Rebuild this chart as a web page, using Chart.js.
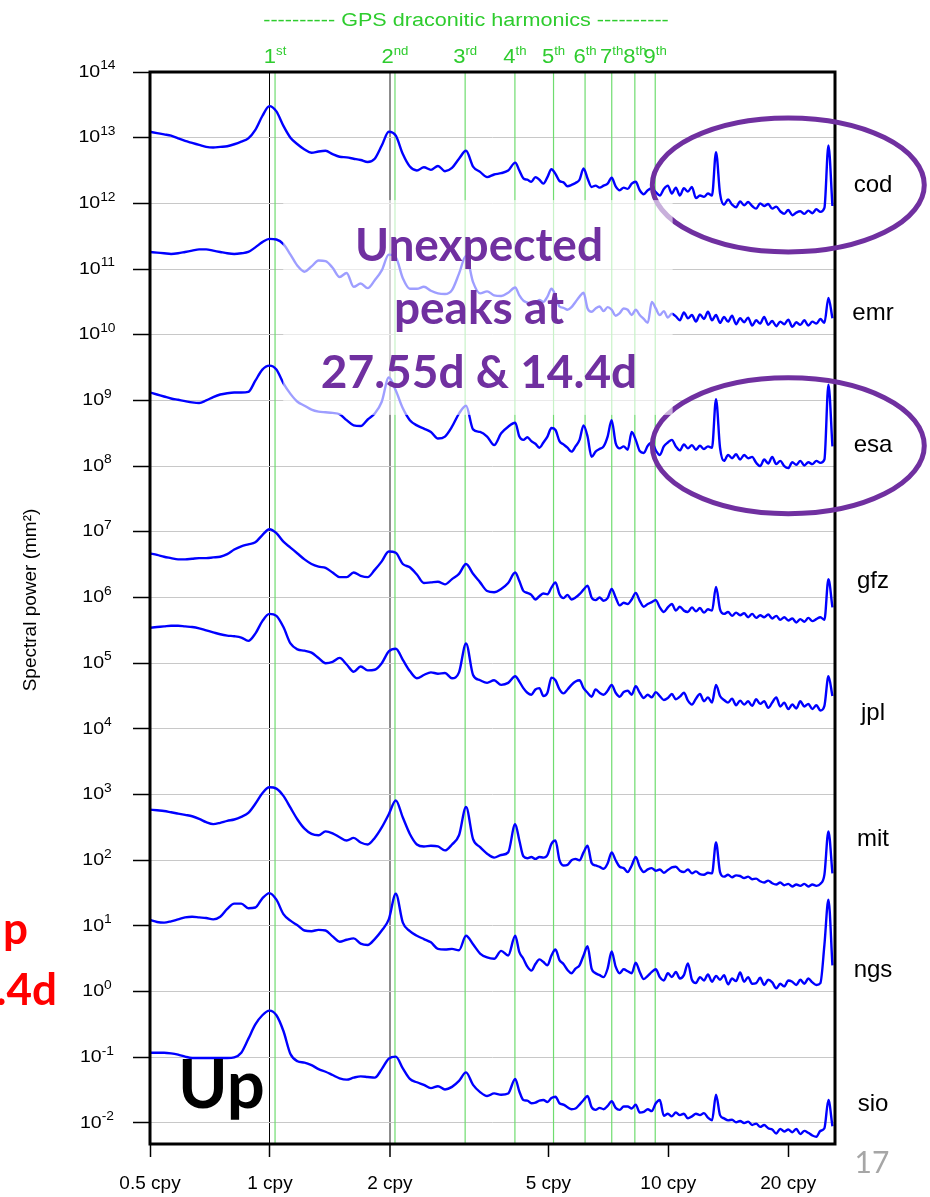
<!DOCTYPE html>
<html>
<head>
<meta charset="utf-8">
<script src="https://cdn.jsdelivr.net/npm/chart.js@4.4.1/dist/chart.umd.min.js"></script>
<style>
  html, body { margin: 0; padding: 0; background: #fff; }
  #wrap { width: 930px; height: 1197px; position: relative; }
</style>
</head>
<body>
<div id="wrap"><canvas id="spectra" width="930" height="1197"></canvas></div>
<script>
// --- data ---
// frequency samples (cycles per year)
const freqCpy = [
  0.5, 0.5207, 0.5423, 0.5647, 0.5881, 0.6125, 0.6378, 0.6643, 0.6918, 0.7204,
  0.7503, 0.7813, 0.8137, 0.8474, 0.8825, 0.9191, 0.9571, 0.9968, 1.0381, 1.0811,
  1.1259, 1.1725, 1.2211, 1.2717, 1.3244, 1.3792, 1.4364, 1.4959, 1.5579, 1.6224,
  1.6896, 1.7596, 1.8325, 1.9084, 1.9875, 2.0698, 2.1556, 2.2449, 2.3379, 2.4347,
  2.5356, 2.6406, 2.75, 2.8639, 2.9826, 3.1061, 3.2348, 3.3688, 3.5084, 3.6537, 3.8051, 3.9627, 4.1269,
  4.227, 4.326, 4.427, 4.531, 4.638, 4.746, 4.858, 4.972, 5.088, 5.208,
  5.33, 5.455, 5.583, 5.714, 5.848, 5.985, 6.126, 6.269, 6.417, 6.567,
  6.721, 6.879, 7.04, 7.206, 7.375, 7.548, 7.725, 7.906, 8.092, 8.282,
  8.476, 8.675, 8.879, 9.087, 9.3, 9.519, 9.742, 9.971, 10.205, 10.444,
  10.689, 10.94, 11.197, 11.46, 11.729, 12.004, 12.286, 12.574, 12.87, 13.172,
  13.481, 13.797, 14.121, 14.453, 14.792, 15.139, 15.495, 15.858, 16.231, 16.612,
  17.001, 17.4, 17.809, 18.227, 18.655, 19.093, 19.541, 20.0, 20.469, 20.95,
  21.442, 21.945, 22.46, 22.987, 23.527, 24.079, 24.645, 25.223, 25.815
];

// log10 of spectral power (mm^2) for each analysis centre, same samples as freqCpy
const codExp = [
  13.09, 13.07, 13.05, 13.03, 12.99, 12.95, 12.92, 12.89, 12.86, 12.85,
  12.86, 12.87, 12.90, 12.94, 12.99, 13.12, 13.33, 13.48, 13.40, 13.18,
  13.00, 12.90, 12.82, 12.77, 12.79, 12.80, 12.75, 12.71, 12.70, 12.68,
  12.66, 12.63, 12.68, 12.88, 13.09, 13.03, 12.75, 12.56, 12.50, 12.55,
  12.51, 12.57, 12.49, 12.54, 12.68, 12.80, 12.56, 12.48, 12.40, 12.44, 12.46, 12.50, 12.62,
  12.50, 12.38, 12.36, 12.33, 12.40, 12.36, 12.30, 12.40, 12.52, 12.45,
  12.34, 12.32, 12.26, 12.28, 12.31, 12.36, 12.53, 12.38, 12.25, 12.27,
  12.24, 12.27, 12.30, 12.39, 12.26, 12.20, 12.24, 12.22, 12.30, 12.33,
  12.20, 12.14, 12.20, 12.23, 12.17, 12.12, 12.22, 12.27, 12.15, 12.24,
  12.12, 12.23, 12.18, 12.25, 12.08, 12.12, 12.10, 12.15, 12.12, 12.78,
  12.15, 11.98, 12.06, 11.98, 11.94, 12.03, 11.97, 12.02, 11.96, 11.92,
  12.00, 11.96, 11.99, 11.92, 11.95, 11.88, 11.84, 11.90, 11.82, 11.86,
  11.88, 11.84, 11.89, 11.85, 11.91, 11.87, 11.93, 12.88, 11.96
];
const emrExp = [
  11.26, 11.25, 11.24, 11.23, 11.24, 11.26, 11.28, 11.30, 11.30, 11.28,
  11.26, 11.24, 11.23, 11.24, 11.26, 11.33, 11.41, 11.46, 11.45, 11.38,
  11.22, 11.05, 10.96, 11.04, 11.13, 11.12, 11.02, 10.88, 10.94, 10.73,
  10.78, 10.71, 10.83, 10.98, 11.22, 11.18, 10.86, 10.70, 10.70, 10.73,
  10.67, 10.63, 10.62, 10.68, 10.93, 11.20, 10.80, 10.63, 10.66, 10.60, 10.59, 10.64, 10.72,
  10.60, 10.52, 10.49, 10.46, 10.48, 10.53, 10.50, 10.58, 10.70, 10.60,
  10.43, 10.41, 10.38, 10.42, 10.50, 10.58, 10.64, 10.40, 10.35, 10.40,
  10.43, 10.36, 10.42, 10.38, 10.29, 10.33, 10.40, 10.38, 10.30, 10.38,
  10.30, 10.24, 10.18, 10.50, 10.40, 10.30, 10.36, 10.26, 10.32, 10.28,
  10.22, 10.34, 10.25, 10.30, 10.20, 10.31, 10.24, 10.35, 10.22, 10.30,
  10.18, 10.27, 10.20, 10.29, 10.16, 10.25, 10.19, 10.26, 10.14, 10.22,
  10.17, 10.27, 10.15, 10.21, 10.13, 10.20, 10.16, 10.23, 10.12, 10.19,
  10.15, 10.22, 10.14, 10.20, 10.17, 10.24, 10.18, 10.56, 10.25
];
const esaExp = [
  9.12, 9.09, 9.06, 9.03, 9.01, 8.99, 8.97, 8.96, 9.00, 9.05,
  9.09, 9.11, 9.12, 9.12, 9.13, 9.30, 9.47, 9.53, 9.47, 9.26,
  9.10, 8.98, 8.92, 8.86, 8.83, 8.82, 8.81, 8.79, 8.70, 8.62,
  8.61, 8.71, 8.80, 8.98, 9.35, 9.15, 8.88, 8.70, 8.62, 8.57,
  8.52, 8.42, 8.45, 8.60, 8.80, 8.92, 8.56, 8.52, 8.45, 8.32, 8.50, 8.60, 8.66,
  8.45, 8.40, 8.44, 8.38, 8.34, 8.28, 8.36, 8.45, 8.58, 8.55,
  8.38, 8.33, 8.28, 8.22, 8.30, 8.40, 8.62, 8.45, 8.14, 8.22,
  8.26, 8.30, 8.45, 8.70, 8.35, 8.27, 8.30, 8.25, 8.52, 8.40,
  8.23, 8.20, 8.31, 8.36, 8.24, 8.17, 8.30, 8.36, 8.40, 8.30,
  8.24, 8.33, 8.27, 8.32, 8.25, 8.31, 8.26, 8.30, 8.28, 9.02,
  8.28, 8.08, 8.17, 8.12, 8.18, 8.10, 8.17, 8.12, 8.14, 8.05,
  8.00, 8.10, 8.04, 8.14, 8.03, 8.08, 8.00, 7.97, 8.06, 8.02,
  8.08, 8.01, 8.06, 8.03, 8.08, 8.05, 8.10, 9.24, 8.30
];
const gfzExp = [
  6.67, 6.65, 6.62, 6.60, 6.58, 6.58, 6.59, 6.60, 6.60, 6.61,
  6.62, 6.66, 6.73, 6.78, 6.81, 6.84, 6.95, 7.04, 6.98, 6.85,
  6.76, 6.67, 6.58, 6.51, 6.47, 6.45, 6.38, 6.31, 6.31, 6.38,
  6.33, 6.31, 6.42, 6.55, 6.70, 6.68, 6.51, 6.46, 6.35, 6.22,
  6.23, 6.24, 6.20, 6.28, 6.36, 6.51, 6.36, 6.23, 6.10, 6.08, 6.13, 6.22, 6.38,
  6.25, 6.10, 6.07, 6.04, 5.97, 6.02, 6.06, 6.05, 6.15, 6.23,
  6.05, 5.99, 6.04, 5.97, 6.00, 6.05, 6.12, 6.18, 6.00, 5.96,
  6.00, 5.95, 5.99, 6.13, 6.00, 5.88, 5.92, 5.90, 5.97, 6.07,
  5.95, 5.86, 5.90, 5.93, 5.96, 5.85, 5.78, 5.85, 5.90, 5.80,
  5.86, 5.80, 5.78, 5.85, 5.79, 5.84, 5.77, 5.82, 5.80, 6.16,
  5.82, 5.75, 5.78, 5.72, 5.77, 5.73, 5.76, 5.70, 5.75, 5.69,
  5.73, 5.70, 5.74, 5.68, 5.72, 5.66, 5.70, 5.65, 5.68, 5.62,
  5.67, 5.63, 5.69, 5.64, 5.67, 5.70, 5.66, 6.28, 5.85
];
const jplExp = [
  5.54, 5.55, 5.56, 5.57, 5.57, 5.56, 5.55, 5.53, 5.50, 5.47,
  5.44, 5.42, 5.41, 5.39, 5.34, 5.45, 5.64, 5.75, 5.72, 5.55,
  5.30, 5.21, 5.19, 5.16, 5.08, 5.00, 5.02, 5.08, 4.98, 4.87,
  4.95, 4.89, 4.90, 5.00, 5.18, 5.22, 5.05, 4.88, 4.77, 4.82,
  4.86, 4.84, 4.85, 4.77, 4.86, 5.30, 4.82, 4.74, 4.70, 4.74, 4.67, 4.70, 4.80,
  4.72, 4.62, 4.55, 4.52, 4.60, 4.62, 4.50, 4.55, 4.78, 4.74,
  4.60, 4.54, 4.60, 4.67, 4.72, 4.74, 4.62, 4.55, 4.49, 4.60,
  4.55, 4.52, 4.58, 4.67, 4.55, 4.49, 4.56, 4.58, 4.52, 4.65,
  4.55, 4.47, 4.52, 4.48, 4.56, 4.50, 4.44, 4.47, 4.53, 4.45,
  4.49, 4.55, 4.43, 4.37, 4.46, 4.53, 4.42, 4.48, 4.40, 4.67,
  4.50, 4.44, 4.40, 4.46, 4.36, 4.43, 4.37, 4.42, 4.35, 4.45,
  4.38, 4.42, 4.32, 4.40, 4.48, 4.34, 4.40, 4.30, 4.37, 4.31,
  4.42, 4.34, 4.38, 4.30, 4.36, 4.28, 4.35, 4.80, 4.50
];
const mitExp = [
  2.77, 2.76, 2.75, 2.73, 2.71, 2.69, 2.67, 2.63, 2.58, 2.55,
  2.57, 2.60, 2.62, 2.66, 2.72, 2.86, 3.02, 3.11, 3.09, 2.98,
  2.80, 2.62, 2.48, 2.40, 2.38, 2.44, 2.41, 2.35, 2.30, 2.34,
  2.27, 2.24, 2.34, 2.50, 2.70, 2.91, 2.65, 2.40, 2.24, 2.21,
  2.22, 2.21, 2.15, 2.24, 2.38, 2.81, 2.32, 2.20, 2.10, 2.04, 2.08, 2.12, 2.55,
  2.30, 2.06, 2.03, 2.05, 2.02, 2.05, 2.04, 2.08, 2.25, 2.30,
  2.00, 1.92, 1.93, 2.00, 2.02, 2.00, 2.12, 2.22, 1.96, 1.92,
  1.90, 1.87, 1.95, 2.12, 2.00, 1.90, 1.88, 1.82, 1.92, 2.05,
  1.90, 1.82, 1.86, 1.88, 1.84, 1.86, 1.81, 1.85, 1.89, 1.90,
  1.84, 1.82, 1.86, 1.80, 1.83, 1.79, 1.78, 1.81, 1.80, 2.27,
  1.82, 1.75, 1.78, 1.74, 1.77, 1.76, 1.73, 1.75, 1.71, 1.72,
  1.68, 1.66, 1.69, 1.65, 1.63, 1.66, 1.62, 1.64, 1.60, 1.63,
  1.61, 1.64, 1.60, 1.63, 1.61, 1.64, 1.78, 2.44, 1.80
];
const ngsExp = [
  1.09, 1.06, 1.05, 1.07, 1.10, 1.13, 1.14, 1.13, 1.12, 1.10,
  1.14, 1.26, 1.34, 1.34, 1.27, 1.28, 1.42, 1.50, 1.40, 1.18,
  1.08, 1.01, 0.93, 0.92, 0.94, 0.93, 0.84, 0.76, 0.79, 0.81,
  0.73, 0.71, 0.80, 0.93, 1.10, 1.49, 1.05, 0.92, 0.85, 0.80,
  0.75, 0.65, 0.64, 0.65, 0.63, 0.85, 0.72, 0.58, 0.52, 0.50, 0.62, 0.55, 0.85,
  0.60, 0.50, 0.38, 0.32, 0.42, 0.49, 0.45, 0.40, 0.55, 0.64,
  0.48, 0.42, 0.33, 0.28, 0.35, 0.40, 0.55, 0.69, 0.35, 0.28,
  0.25, 0.22, 0.35, 0.61, 0.38, 0.28, 0.34, 0.31, 0.28, 0.44,
  0.30, 0.19, 0.24, 0.30, 0.34, 0.22, 0.17, 0.28, 0.22, 0.30,
  0.20, 0.25, 0.43, 0.18, 0.13, 0.22, 0.17, 0.26, 0.15, 0.24,
  0.18, 0.25, 0.11, 0.20, 0.16, 0.29, 0.15, 0.22, 0.12, 0.13,
  0.21, 0.10, 0.18, 0.14, 0.05, 0.12, 0.08, 0.17, 0.15, 0.10,
  0.18, 0.12, 0.20, 0.14, 0.10, 0.13, 0.71, 1.40, 0.40
];
const sioExp = [
  -0.93, -0.93, -0.93, -0.94, -0.96, -0.99, -1.01, -1.01, -1.01, -1.01,
  -1.01, -1.01, -1.00, -0.93, -0.72, -0.50, -0.36, -0.29, -0.36, -0.60,
  -0.95, -1.06, -1.08, -1.12, -1.18, -1.22, -1.27, -1.32, -1.34, -1.31,
  -1.29, -1.30, -1.31, -1.18, -1.02, -0.99, -1.17, -1.33, -1.38, -1.42,
  -1.47, -1.44, -1.49, -1.45, -1.36, -1.23, -1.42, -1.53, -1.59, -1.55, -1.57, -1.55, -1.33,
  -1.52, -1.65, -1.66, -1.70, -1.69, -1.66, -1.65, -1.68, -1.62, -1.60,
  -1.70, -1.72, -1.76, -1.79, -1.78, -1.72, -1.65, -1.59, -1.76, -1.80,
  -1.77, -1.79, -1.74, -1.67, -1.77, -1.80, -1.75, -1.75, -1.78, -1.72,
  -1.84, -1.83, -1.79, -1.82, -1.70, -1.65, -1.89, -1.86, -1.90, -1.84,
  -1.88, -1.86, -1.93, -1.90, -1.86, -1.88, -1.85, -1.92, -1.96, -1.57,
  -1.88, -1.93, -1.96, -1.95, -1.99, -1.97, -2.00, -1.98, -2.03, -2.01,
  -2.06, -2.03, -2.08, -2.10, -2.16, -2.09, -2.13, -2.10, -2.14, -2.09,
  -2.17, -2.12, -2.15, -2.19, -2.21, -2.12, -2.08, -1.65, -2.05
];

const centreNames = ['cod', 'emr', 'esa', 'gfz', 'jpl', 'mit', 'ngs', 'sio'];
const centreSeries = [codExp, emrExp, esaExp, gfzExp, jplExp, mitExp, ngsExp, sioExp];

const xTickValues = [0.5, 1, 2, 5, 10, 20];
const yTickExps = [14, 13, 12, 11, 10, 9, 8, 7, 6, 5, 4, 3, 2, 1, 0, -1, -2];
const harmonicCpy = [1.03, 2.06, 3.09, 4.12, 5.15, 6.18, 7.21, 8.24, 9.27];
const harmonicNames = [['1', 'st'], ['2', 'nd'], ['3', 'rd'], ['4', 'th'], ['5', 'th'],
                       ['6', 'th'], ['7', 'th'], ['8', 'th'], ['9', 'th']];

// --- helpers ---
const SANS = '"Liberation Sans", Arial, sans-serif';
const PURPLE = '#7030a0';
const GREEN = '#2ecc2e';

// text stretched horizontally like the original slide
function wideText(ctx, str, x, y, font, sx, align) {
  ctx.save();
  ctx.font = font;
  const w = ctx.measureText(str).width * sx;
  let left = x;
  if (align === 'center') left = x - w / 2;
  if (align === 'right') left = x - w;
  ctx.translate(left, y);
  ctx.scale(sx, 1);
  ctx.textAlign = 'left';
  ctx.fillText(str, 0, 0);
  ctx.restore();
  return w;
}

function powerLabel(ctx, exp, cx, cy) {
  const sx = 1.15;
  ctx.save();
  ctx.font = '17px ' + SANS;
  const wb = ctx.measureText('10').width;
  ctx.font = '12px ' + SANS;
  const ws = ctx.measureText(String(exp)).width;
  ctx.translate(cx - (wb + ws) * sx / 2, cy);
  ctx.scale(sx, 1);
  ctx.fillStyle = '#000';
  ctx.textBaseline = 'middle';
  ctx.font = '17px ' + SANS;
  ctx.fillText('10', 0, 0);
  ctx.font = '12px ' + SANS;
  ctx.fillText(String(exp), wb, -6);
  ctx.restore();
}

const decorPlugin = {
  id: 'decor',
  beforeDatasetsDraw(chart) {
    const { ctx, chartArea: a, scales: { x } } = chart;
    ctx.save();
    ctx.strokeStyle = '#6fdc6f';
    ctx.lineWidth = 1.2;
    harmonicCpy.forEach(f => {
      const px = x.getPixelForValue(f);
      ctx.beginPath();
      ctx.moveTo(px, a.top);
      ctx.lineTo(px, a.bottom);
      ctx.stroke();
    });
    ctx.restore();
  },
  afterDatasetsDraw(chart) {
    const { ctx, chartArea: a, scales: { x, y } } = chart;
    ctx.save();
    // plot frame
    ctx.strokeStyle = '#000';
    ctx.lineWidth = 3;
    ctx.strokeRect(a.left, a.top, a.right - a.left, a.bottom - a.top);

    // purple rings around the cod / esa high-frequency parts
    ctx.strokeStyle = PURPLE;
    ctx.lineWidth = 5;
    [[20, 12.28, 136, 67], [20, 8.31, 136, 68]].forEach(([f, e, rx, ry]) => {
      ctx.beginPath();
      ctx.ellipse(x.getPixelForValue(f), y.getPixelForValue(Math.pow(10, e)), rx, ry, 0, 0, Math.PI * 2);
      ctx.stroke();
    });

    // half-transparent text box behind the annotation
    const bx1 = x.getPixelForValue(1.08), bx2 = x.getPixelForValue(10.25);
    const by1 = y.getPixelForValue(Math.pow(10, 12.05)), by2 = y.getPixelForValue(Math.pow(10, 8.78));
    ctx.fillStyle = 'rgba(255,255,255,0.62)';
    ctx.fillRect(bx1, by1, bx2 - bx1, by2 - by1);

    ctx.fillStyle = PURPLE;
    ctx.font = 'bold 46px Lato, "Open Sans", sans-serif';
    ctx.textAlign = 'center';
    ctx.textBaseline = 'alphabetic';
    ctx.fillText('Unexpected', 479, 261);
    ctx.fillText('peaks at', 479, 324);
    ctx.fillText('27.55d & 14.4d', 479, 388);

    ctx.fillStyle = '#000';
    ctx.font = 'bold 67px Lato, "Open Sans", sans-serif';
    ctx.textAlign = 'left';
    ctx.fillText('Up', 178, 1108);
    ctx.restore();
  },
  afterDraw(chart) {
    const { ctx, scales: { x, y } } = chart;
    ctx.save();

    // y tick labels 10^n
    y.ticks.forEach(t => {
      const e = Math.round(Math.log10(t.value));
      powerLabel(ctx, e, 97, y.getPixelForValue(t.value));
    });

    // y axis title
    ctx.save();
    ctx.translate(31, 600);
    ctx.rotate(-Math.PI / 2);
    ctx.fillStyle = '#000';
    ctx.textAlign = 'center';
    ctx.textBaseline = 'middle';
    ctx.font = '19px ' + SANS;
    ctx.fillText('Spectral power (mm\u00b2)', 0, 0);
    ctx.restore();

    // centre names at the right
    const nameLevels = [12.28, 10.33, 8.31, 6.24, 4.24, 2.31, 0.33, -1.72];
    ctx.fillStyle = '#000';
    ctx.textBaseline = 'middle';
    ctx.textAlign = 'center';
    ctx.font = '24px ' + SANS;
    centreNames.forEach((n, i) => {
      ctx.fillText(n, 873, y.getPixelForValue(Math.pow(10, nameLevels[i])));
    });

    // harmonic title and labels
    ctx.fillStyle = GREEN;
    ctx.textBaseline = 'alphabetic';
    wideText(ctx, '---------- GPS draconitic harmonics ----------', 466, 26, '18px ' + SANS, 1.2, 'center');
    harmonicCpy.forEach((f, i) => {
      const [num, suf] = harmonicNames[i];
      const px = x.getPixelForValue(f);
      ctx.font = '20px ' + SANS;
      const w1 = ctx.measureText(num).width * 1.1;
      ctx.font = '12px ' + SANS;
      const w2 = ctx.measureText(suf).width * 1.1;
      const left = px - (w1 + w2) / 2;
      wideText(ctx, num, left, 63, '20px ' + SANS, 1.1, 'left');
      wideText(ctx, suf, left + w1, 55, '12px ' + SANS, 1.1, 'left');
    });

    // cropped red slide text on the left edge
    ctx.fillStyle = '#ff0000';
    ctx.font = 'bold 44px Lato, "Open Sans", sans-serif';
    ctx.textAlign = 'right';
    ctx.fillText('p', 28, 944);
    ctx.fillText('.4d', 57, 1005);

    // slide number
    ctx.fillStyle = '#a6a6a6';
    ctx.font = '30px Lato, "Open Sans", sans-serif';
    ctx.textAlign = 'center';
    ctx.fillText('17', 872, 1173);
    ctx.restore();
  }
};

const datasets = centreSeries.map((vals, i) => ({
  label: centreNames[i],
  data: freqCpy.map((f, k) => ({ x: f, y: Math.pow(10, vals[k]) })),
  borderColor: '#0000ff',
  borderWidth: 2.4,
  pointRadius: 0,
  cubicInterpolationMode: 'monotone',
  fill: false
}));

new Chart(document.getElementById('spectra').getContext('2d'), {
  type: 'line',
  data: { datasets },
  plugins: [decorPlugin],
  options: {
    responsive: false,
    animation: false,
    devicePixelRatio: 1,
    layout: { padding: { left: 0, top: 72, right: 95, bottom: 0 } },
    plugins: { legend: { display: false }, tooltip: { enabled: false } },
    scales: {
      x: {
        type: 'logarithmic',
        min: 0.5,
        max: 26.2,
        afterBuildTicks: scale => { scale.ticks = xTickValues.map(v => ({ value: v })); },
        afterFit: scale => { scale.height = 53; },
        border: { display: false },
        grid: {
          drawOnChartArea: true,
          color: c => c.tick && c.tick.value === 1 ? '#000' : (c.tick && c.tick.value === 2 ? '#8c8c8c' : 'rgba(0,0,0,0)'),
          lineWidth: c => c.tick && c.tick.value === 2 ? 2 : 1,
          tickColor: '#000',
          tickLength: 13,
          tickWidth: 1.5
        },
        ticks: {
          autoSkip: false,
          maxRotation: 0,
          padding: 15,
          color: '#000',
          font: { family: 'Liberation Sans', size: 19 },
          callback: v => v + ' cpy'
        }
      },
      y: {
        type: 'logarithmic',
        min: Math.pow(10, -2.32),
        max: 1e14,
        afterBuildTicks: scale => { scale.ticks = yTickExps.map(e => ({ value: Math.pow(10, e) })); },
        afterFit: scale => { scale.width = 150; },
        border: { display: false },
        grid: {
          color: '#c8c8c8',
          lineWidth: 1,
          tickColor: '#000',
          tickLength: 17,
          tickWidth: 1.5
        },
        ticks: { callback: () => '', padding: 0 }
      }
    }
  }
});
</script>
</body>
</html>
